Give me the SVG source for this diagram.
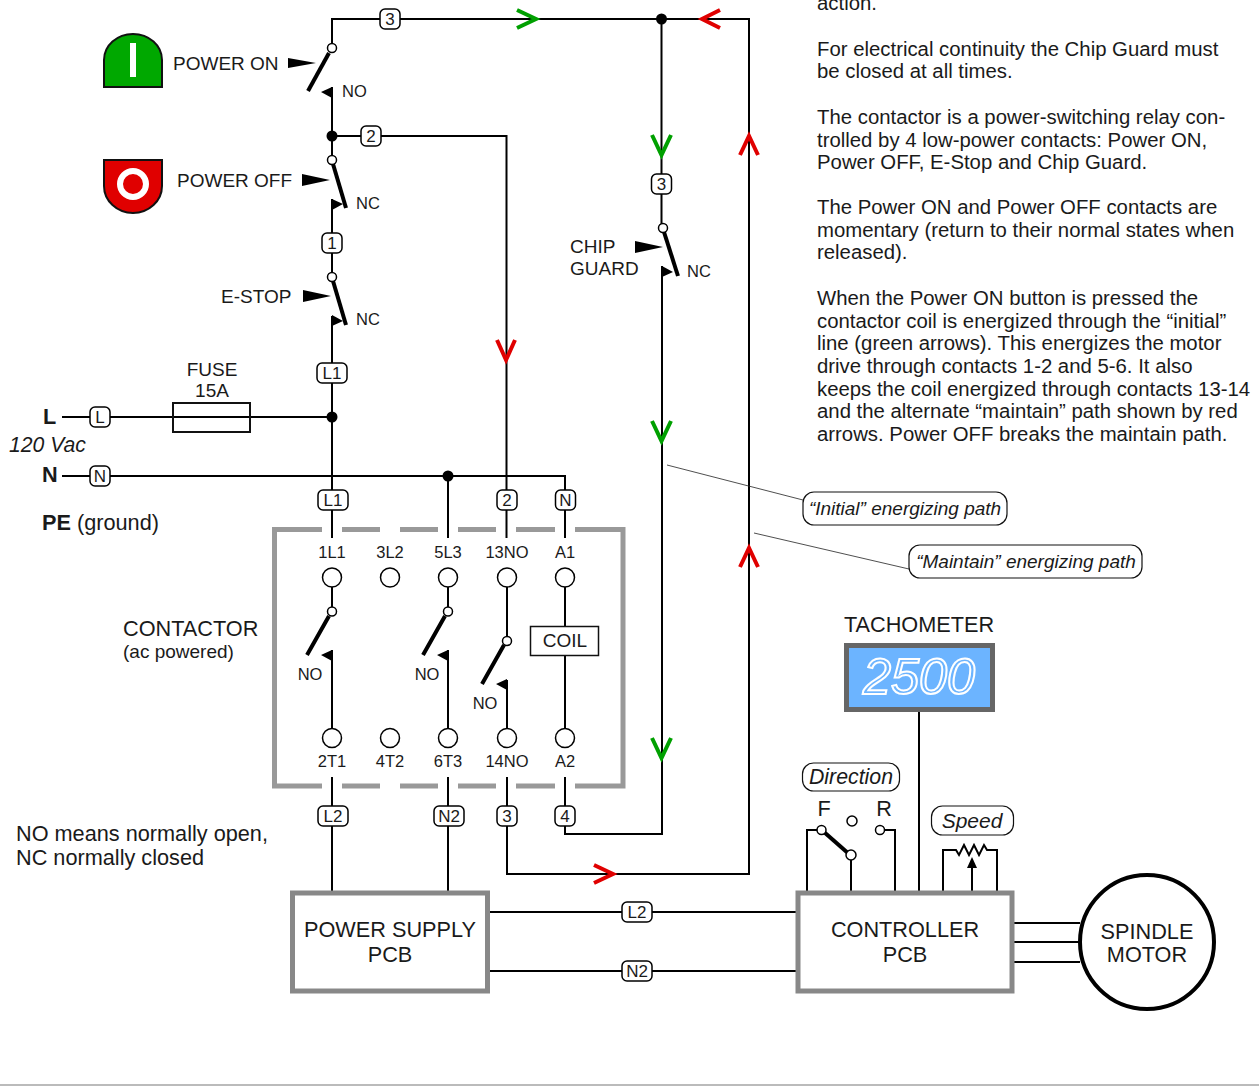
<svg xmlns="http://www.w3.org/2000/svg" width="1259" height="1086" viewBox="0 0 1259 1086">
<style>
text{font-family:"Liberation Sans",Arial,sans-serif;fill:#1a1a1a;font-size:19px}
.m{text-anchor:middle}
.s{font-size:16.500px}
.t{font-size:17px;text-anchor:middle}
.p{font-size:20.350px}
.l{font-size:21.700px}
.i{font-style:italic}
.b{font-weight:bold}
.w{fill:none;stroke:#000;stroke-width:2}
.blade{fill:none;stroke:#000;stroke-width:4}
.box{fill:#fff;stroke:#000;stroke-width:1.500}
.term{fill:#fff;stroke:#000;stroke-width:1.500}
.pb{fill:#fff;stroke:#000;stroke-width:1.500}
.wedge{fill:#000}
.grn{fill:none;stroke:#00a000;stroke-width:4}
.red{fill:none;stroke:#e00000;stroke-width:4}
.gray{fill:none;stroke:#999;stroke-width:5}
.leader{fill:none;stroke:#222;stroke-width:.8}
</style>
<defs>
<g id="wl"><rect x="-10" y="-10" width="20" height="20" rx="5" class="box"/></g>
<g id="wlw"><rect x="-15" y="-10" width="30" height="20" rx="5" class="box"/></g>
</defs>

<rect x="0" y="1084" width="1259" height="2" fill="#bbb"/>

<g id="connectors">
<path class="w" d="M332 48V19H749V874H507V777M332 87V160M332 136H506.500V538M332 199V277M332 316V538M62 417H332M62 476H565V538M448 476V538M661.500 19V228M662 266V834H565V777M332 777V892M448 777V892"/>
<path class="w" d="M332 587V607M332 650V728M448 587V607M448 650V728M507 587V637M507 680V728M565 587V728"/>
<path class="w" d="M488 912H797M488 971H797M1012 923H1080M1012 942H1080M1012 962H1080M919 711V892"/>
<path class="w" d="M807 892V830H818M851 860V892M884 830H895V892M943 892V850H956L959 855 964 845 969 855 974 845 979 855 984 845 987 850H997V892M972 892V866"/>
<path class="wedge" d="M972 857l5 11h-10z"/>
<path class="leader" d="M667 465L803 500M754 533L909 569"/>
<path class="grn" d="M517 10L536 19 517 28M652 135L661.500 155 671 135M652 421L661.500 441 671 421M652 738L661.500 758 671 738"/>
<path class="red" d="M720 10L702 19 720 28M740 155L749 136 758 155M497 340L506 360 515 340M740 567L749 548 758 567M594 865L613 874 594 883"/>
<circle cx="661.500" cy="19" r="5.500"/><circle cx="332" cy="136" r="5.500"/><circle cx="332" cy="417" r="5.500"/><circle cx="448" cy="476" r="5.500"/>
</g>

<g id="contactor-frame">
<path class="gray" d="M322 529.500H274.500V786H322M342 529.500H380M400 529.500H438M458 529.500H496M516 529.500H555M575 529.500H623V786H575M342 786H380M400 786H438M458 786H496M516 786H555"/>
</g>

<g id="power-on-button">
<path d="M104 87V60A29 26 0 0 1 162 60V87Z" fill="#00a800" stroke="#111" stroke-width="2"/>
<rect x="130" y="43" width="6" height="34" fill="#fff"/>
</g>
<g id="power-off-button">
<path d="M104 160V186A29 27 0 0 0 162 186V160Z" fill="#e00000" stroke="#111" stroke-width="2"/>
<circle cx="133" cy="184" r="13" fill="none" stroke="#fff" stroke-width="6"/>
</g>

<g id="power-on-switch">
<text x="173" y="70">POWER ON</text>
<path class="wedge" d="M288 58L316 63 288 68Z"/>
<path class="blade" d="M329 53L308 91"/>
<circle cx="332" cy="48" r="4.500" class="pb"/>
<path class="wedge" d="M332 87V98L321 92Z"/>
<text x="342" y="97" class="s">NO</text>
</g>
<g id="power-off-switch">
<text x="177" y="187">POWER OFF</text>
<path class="wedge" d="M302 174L330 180 302 186Z"/>
<path class="blade" d="M333 164L346 208"/>
<circle cx="332" cy="160" r="4.500" class="pb"/>
<path class="wedge" d="M332 199V210L343 204Z"/>
<text x="356" y="209" class="s">NC</text>
</g>
<g id="wire-label-1"><use href="#wl" x="332" y="243"/><text x="332" y="249" class="t">1</text></g>
<g id="wire-label-2"><use href="#wl" x="371" y="136"/><text x="371" y="142" class="t">2</text></g>
<g id="wire-label-3-top"><use href="#wl" x="390" y="19"/><text x="390" y="25" class="t">3</text></g>
<g id="estop-switch">
<text x="221" y="303">E-STOP</text>
<path class="wedge" d="M303 290L331 296 303 302Z"/>
<path class="blade" d="M333 281L346 325"/>
<circle cx="332" cy="277" r="4.500" class="pb"/>
<path class="wedge" d="M332 315V326L343 321Z"/>
<text x="356" y="325" class="s">NC</text>
</g>
<g id="chip-guard">
<text x="570" y="253">CHIP</text><text x="570" y="275">GUARD</text>
<path class="wedge" d="M635 241L663 247 635 253Z"/>
<path class="blade" d="M664 232L678 276"/>
<circle cx="663" cy="228" r="4.500" class="pb"/>
<path class="wedge" d="M662 266V277L673 272Z"/>
<text x="687" y="277" class="s">NC</text>
<use href="#wl" x="661.500" y="184"/><text x="661.500" y="190" class="t">3</text>
</g>
<g id="fuse">
<rect x="173" y="403" width="77" height="29" fill="none" stroke="#111" stroke-width="2"/>
<text x="212" y="376" class="m">FUSE</text><text x="212" y="397" class="m">15A</text>
</g>
<g id="line-in">
<text x="43" y="424" class="b l">L</text>
<text x="9" y="451.500" class="i" style="font-size:21.200px">120 Vac</text>
<text x="42" y="482" class="b l">N</text>
<text x="42" y="530" class="l"><tspan class="b">PE</tspan> (ground)</text>
<use href="#wl" x="100" y="417"/><text x="100" y="423" class="t">L</text>
<use href="#wl" x="100" y="476"/><text x="100" y="482" class="t">N</text>
</g>
<g id="wire-labels-contactor">
<use href="#wlw" x="332" y="373"/><text x="332" y="379" class="t">L1</text>
<use href="#wlw" x="333" y="500"/><text x="333" y="506" class="t">L1</text>
<use href="#wl" x="507" y="500"/><text x="507" y="506" class="t">2</text>
<use href="#wl" x="565.500" y="500"/><text x="565.500" y="506" class="t">N</text>
<use href="#wlw" x="333" y="816"/><text x="333" y="822" class="t">L2</text>
<use href="#wlw" x="449" y="816"/><text x="449" y="822" class="t">N2</text>
<use href="#wl" x="507" y="816"/><text x="507" y="822" class="t">3</text>
<use href="#wl" x="565" y="816"/><text x="565" y="822" class="t">4</text>
<use href="#wlw" x="637" y="912"/><text x="637" y="918" class="t">L2</text>
<use href="#wlw" x="637" y="971"/><text x="637" y="977" class="t">N2</text>
</g>

<g id="contactor">
<text x="123" y="636" class="l">CONTACTOR</text>
<text x="123" y="658" style="font-size:19px">(ac powered)</text>
<text class="s m" x="332" y="558">1L1</text><text class="s m" x="390" y="558">3L2</text><text class="s m" x="448" y="558">5L3</text><text class="s m" x="507" y="558">13NO</text><text class="s m" x="565" y="558">A1</text>
<text class="s m" x="332" y="767">2T1</text><text class="s m" x="390" y="767">4T2</text><text class="s m" x="448" y="767">6T3</text><text class="s m" x="507" y="767">14NO</text><text class="s m" x="565" y="767">A2</text>
<circle class="term" cx="332" cy="577.500" r="9.500"/><circle class="term" cx="390" cy="577.500" r="9.500"/><circle class="term" cx="448" cy="577.500" r="9.500"/><circle class="term" cx="507" cy="577.500" r="9.500"/><circle class="term" cx="565" cy="577.500" r="9.500"/>
<circle class="term" cx="332" cy="738" r="9.500"/><circle class="term" cx="390" cy="738" r="9.500"/><circle class="term" cx="448" cy="738" r="9.500"/><circle class="term" cx="507" cy="738" r="9.500"/><circle class="term" cx="565" cy="738" r="9.500"/>
<path class="blade" d="M329 616L307 655M445 616L423 655M504 645L482 684"/>
<circle class="pb" cx="332" cy="611.500" r="4.500"/><circle class="pb" cx="448" cy="611.500" r="4.500"/><circle class="pb" cx="507" cy="641" r="4.500"/>
<path class="wedge" d="M332 650V661L321 655ZM448 650V661L437 655ZM507 679V690L496 684Z"/>
<text class="s m" x="310" y="680">NO</text><text class="s m" x="427" y="680">NO</text><text class="s m" x="485" y="709">NO</text>
<rect x="530.500" y="626.500" width="68" height="29" fill="#fff" stroke="#111" stroke-width="1.500"/>
<text class="m" x="565" y="647">COIL</text>
</g>

<g id="note"><text x="16" y="841" class="l">NO means normally open,</text><text x="16" y="865" class="l">NC normally closed</text></g>

<g id="power-supply">
<rect x="292.500" y="893" width="195" height="98" fill="#fff" stroke="#888" stroke-width="5"/>
<text class="m l" x="390" y="937">POWER SUPPLY</text><text class="m l" x="390" y="962">PCB</text>
</g>
<g id="controller">
<rect x="798" y="893" width="214" height="98" fill="#fff" stroke="#888" stroke-width="5"/>
<text class="m l" x="905" y="937">CONTROLLER</text><text class="m l" x="905" y="962">PCB</text>
</g>
<g id="motor">
<circle cx="1147" cy="942" r="67" fill="#fff" stroke="#000" stroke-width="4"/>
<text class="m l" x="1147" y="939">SPINDLE</text><text class="m l" x="1147" y="962">MOTOR</text>
</g>
<g id="tachometer">
<text class="m l" x="919" y="632">TACHOMETER</text>
<rect x="846.500" y="645.500" width="146" height="64" fill="#6cb4ff" stroke="#666" stroke-width="5"/>
<text x="919" y="694" text-anchor="middle" style="font-size:50px;font-style:italic;fill:#6cb4ff;stroke:#fff;stroke-width:2" textLength="112" lengthAdjust="spacingAndGlyphs">2500</text>
</g>
<g id="direction-switch">
<rect x="802.500" y="763" width="97" height="28" rx="11" fill="#fff" stroke="#111" stroke-width="1.200"/>
<text class="m i" x="851" y="784" style="font-size:21.300px">Direction</text>
<text class="m l" x="824" y="816">F</text><text class="m l" x="884" y="816">R</text>
<path class="blade" d="M824 832L849 854"/>
<circle cx="821.500" cy="830" r="4.500" class="pb"/><circle cx="851" cy="855" r="5" class="pb"/><circle cx="852" cy="821" r="5" class="pb"/><circle cx="880" cy="830" r="4.500" class="pb"/>
</g>
<g id="speed-pot">
<rect x="931.500" y="806" width="82" height="29" rx="11" fill="#fff" stroke="#111" stroke-width="1.200"/>
<text class="m i" x="972" y="828" style="font-size:21px">Speed</text>
</g>
<g id="callouts">
<rect x="803" y="492" width="204" height="33" rx="11" fill="#fff" stroke="#111" stroke-width="1.200"/>
<text class="m i" x="905" y="515">“Initial” energizing path</text>
<rect x="909" y="545" width="233" height="33" rx="11" fill="#fff" stroke="#111" stroke-width="1.200"/>
<text class="m i" x="1026" y="568">“Maintain” energizing path</text>
</g>
<g id="description">
<text class="p" x="817" y="10">action.</text>
<text class="p" x="817" y="56">For electrical continuity the Chip Guard must</text>
<text class="p" x="817" y="78">be closed at all times.</text>
<text class="p" x="817" y="124">The contactor is a power-switching relay con-</text>
<text class="p" x="817" y="147">trolled by 4 low-power contacts: Power ON,</text>
<text class="p" x="817" y="169">Power OFF, E-Stop and Chip Guard.</text>
<text class="p" x="817" y="214">The Power ON and Power OFF contacts are</text>
<text class="p" x="817" y="237">momentary (return to their normal states when</text>
<text class="p" x="817" y="259">released).</text>
<text class="p" x="817" y="305">When the Power ON button is pressed the</text>
<text class="p" x="817" y="328">contactor coil is energized through the “initial”</text>
<text class="p" x="817" y="350">line (green arrows). This energizes the motor</text>
<text class="p" x="817" y="373">drive through contacts 1-2 and 5-6. It also</text>
<text class="p" x="817" y="396">keeps the coil energized through contacts 13-14</text>
<text class="p" x="817" y="418">and the alternate “maintain” path shown by red</text>
<text class="p" x="817" y="441">arrows. Power OFF breaks the maintain path.</text>
</g>
</svg>
